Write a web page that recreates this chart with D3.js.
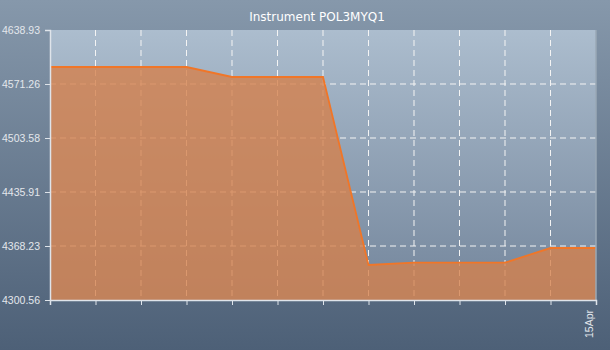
<!DOCTYPE html>
<html>
<head>
<meta charset="utf-8">
<script src="https://cdn.jsdelivr.net/npm/d3@7"></script>
<style>
  html, body { margin: 0; padding: 0; background: #6b7e94; }
  svg { display: block; font-family: "DejaVu Sans", sans-serif; }
</style>
</head>
<body>
<svg id="chart" width="610" height="350"></svg>
<script>
// Data
const labels = ["", "", "", "", "", "", "", "", "", "", "", "", "15Apr"];
const values = [4592.56, 4592.56, 4592.56, 4592.56, 4580.03, 4580.03, 4580.03,
                4344.4, 4347.3, 4347.3, 4347.3, 4365.7, 4365.7];
const yTicks = [4300.56, 4368.23, 4435.91, 4503.58, 4571.26, 4638.93];
const title = "Instrument POL3MYQ1";

const svgWidth = 610;
const svgHeight = 350;
const margin = { top: 30, right: 14, bottom: 50, left: 50 };
const width = svgWidth - margin.left - margin.right;
const height = svgHeight - margin.top - margin.bottom;

const svg = d3.select("#chart");
const defs = svg.append("defs");

const bgGrad = defs.append("linearGradient").attr("id", "bg").attr("x1", 0).attr("y1", 0).attr("x2", 0).attr("y2", 1);
bgGrad.append("stop").attr("offset", "0%").attr("stop-color", "#8698ab");
bgGrad.append("stop").attr("offset", "100%").attr("stop-color", "#4d6077");

const plotGrad = defs.append("linearGradient").attr("id", "plotbg").attr("x1", 0).attr("y1", 0).attr("x2", 0).attr("y2", 1);
plotGrad.append("stop").attr("offset", "0%").attr("stop-color", "#acbdce");
plotGrad.append("stop").attr("offset", "100%").attr("stop-color", "#73859b");

svg.append("rect").attr("width", svgWidth).attr("height", svgHeight).attr("fill", "url(#bg)");

const g = svg.append("g").attr("transform", `translate(${margin.left},${margin.top})`);

const x = d3.scaleLinear().domain([0, values.length - 1]).range([0, width]);
const y = d3.scaleLinear().domain([yTicks[0], yTicks[yTicks.length - 1]]).range([height, 0]);

g.append("rect").attr("width", width).attr("height", height).attr("fill", "url(#plotbg)");

// grid
g.append("g").selectAll("line").data(d3.range(1, values.length - 1)).enter().append("line")
    .attr("x1", d => x(d)).attr("x2", d => x(d))
    .attr("y1", 0).attr("y2", height)
    .attr("stroke", "#f4f4f4").attr("stroke-dasharray", "6,4");
g.append("g").selectAll("line").data(yTicks.slice(1, -1)).enter().append("line")
    .attr("x1", 0).attr("x2", width)
    .attr("y1", d => y(d)).attr("y2", d => y(d))
    .attr("stroke", "#f4f4f4").attr("stroke-dasharray", "6,4");

// area + line
const area = d3.area().x((d, i) => x(i)).y0(height).y1(d => y(d));
const line = d3.line().x((d, i) => x(i)).y(d => y(d));

g.append("path").datum(values).attr("d", area)
    .attr("fill", "#d5814c").attr("fill-opacity", 0.8);
g.append("path").datum(values).attr("d", line)
    .attr("fill", "none").attr("stroke", "#f07628").attr("stroke-width", 1.8);

// right border
g.append("line").attr("x1", width).attr("x2", width).attr("y1", 0).attr("y2", height)
    .attr("stroke", "#9aa8b6").attr("stroke-width", 1.5);

// axes
const yAxis = g.append("g")
    .call(d3.axisLeft(y).tickValues(yTicks).tickSize(5).tickPadding(5).tickFormat(d3.format(".2f")));
const xAxis = g.append("g").attr("transform", `translate(0,${height})`)
    .call(d3.axisBottom(x).tickValues(d3.range(values.length)).tickSize(5).tickFormat(i => labels[i]));

[yAxis, xAxis].forEach(a => {
    a.select(".domain").attr("stroke", "#dfe4ea").attr("stroke-width", 1.5);
    a.selectAll(".tick line").attr("stroke", "#dfe4ea");
    a.selectAll("text").attr("fill", "#e3e7ec").attr("font-size", 10.5);
});
yAxis.select(".domain").attr("d", `M-5,0.5H0.5V${height}`);

xAxis.selectAll("text")
    .attr("transform", "rotate(-90)")
    .attr("text-anchor", "end")
    .attr("x", -10).attr("y", -4)
    .attr("dy", "0");

svg.append("text")
    .attr("x", svgWidth / 2 + 12).attr("y", 21)
    .attr("text-anchor", "middle")
    .attr("fill", "#ffffff").attr("font-size", 12)
    .text(title);
</script>
</body>
</html>
